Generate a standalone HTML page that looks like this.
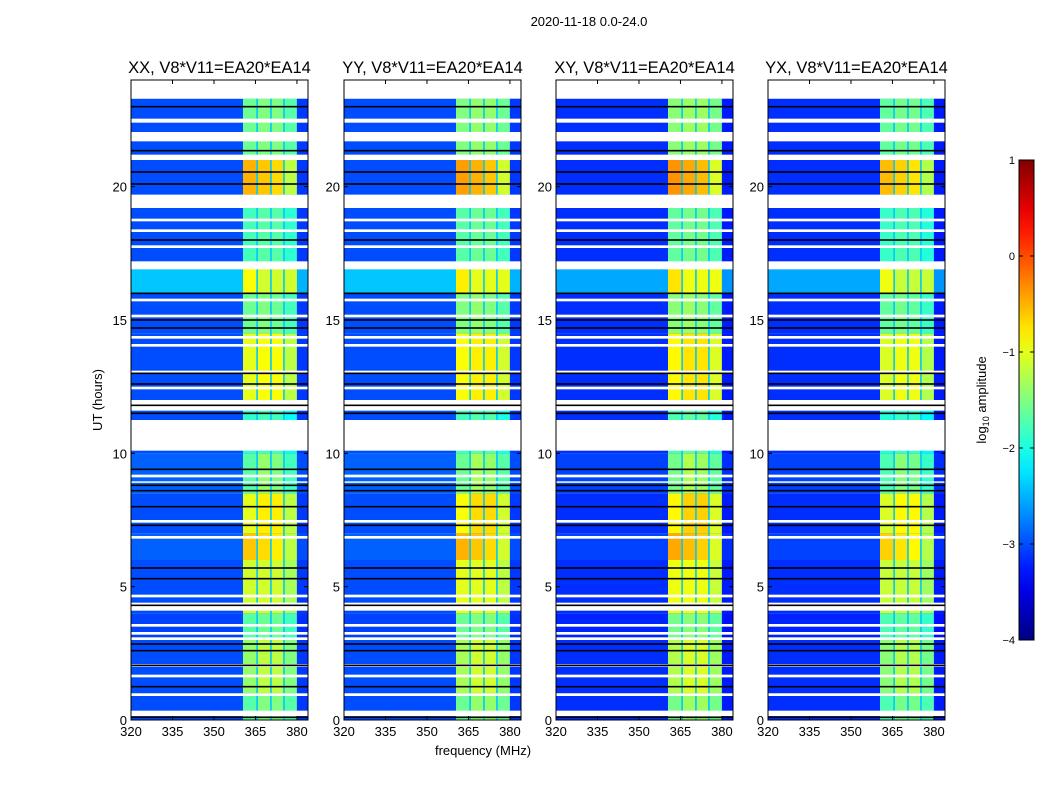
<!DOCTYPE html>
<html><head><meta charset="utf-8"><style>
body{margin:0;background:#fff;width:1050px;height:800px;overflow:hidden;font-family:"Liberation Sans",sans-serif}
svg{position:absolute;left:0;top:0}
</style></head><body>
<svg id="chart" width="1050" height="800"></svg>
<script>
// ---- data ----
const panelTitles = ["XX, V8*V11=EA20*EA14","YY, V8*V11=EA20*EA14","XY, V8*V11=EA20*EA14","YX, V8*V11=EA20*EA14"];
const panelBandOffset = [-0.2, -0.1, -0.05, -0.25];
const panelBaseOffset = [0, 0, -0.15, -0.15];
const xTicks = [320,335,350,365,380];
const yTicks = [0,5,10,15,20];
const cbTicks = [1,0,-1,-2,-3,-4];
// segments: start hour, end hour, background level, band levels (4 sub-bands)
const segStart = [0,1,3,4,6,7,8.5,10,12,14.5,16,17.1,19.7,21];
const segEnd   = [1,3,4,6,7,8.5,10,12,14.5,16,17.1,19.7,21,23.3];
const segBase  = [-3,-3,-3.05,-3,-2.9,-3,-2.9,-3,-3,-3,-2.4,-3,-3,-3];
const segBand  = [[-1.5,-1.3,-1.3,-1.5],[-1.2,-1,-1,-1.3],[-1.5,-1.4,-1.4,-1.6],[-0.9,-0.9,-0.9,-1.1],[-0.4,-0.5,-0.6,-1.0],[-0.8,-0.6,-0.6,-1.0],[-1.5,-1.2,-1.3,-1.6],[-1.7,-1.6,-1.6,-1.9],[-0.8,-0.7,-0.7,-1.0],[-1.4,-1.3,-1.4,-1.6],[-0.7,-0.9,-0.9,-0.9],[-1.6,-1.5,-1.5,-1.7],[-0.3,-0.4,-0.5,-1.0],[-1.4,-1.3,-1.3,-1.5]];
const bandEdges = [360.5,365.6,370.6,375.3,380];
const bandSep = [365.6,370.6,375.3];
// flagged (white) time ranges in hours
const gapStart = [23.3,22.4,21.7,21.0,19.2,11.1,10.1,11.6,4.1,0.15,16.9,3.0,3.2,2.0,9.1,8.9,7.4,6.8,12.4,13.0,14.0,14.3,17.7,18.3,18.7,15.7,15.1,1.6,0.9,4.6,3.5];
const gapEnd   = [24.0,22.55,22.05,21.2,19.7,11.25,11.1,12.0,4.4,0.35,17.2,3.1,3.3,2.1,9.2,8.95,7.5,6.9,12.5,13.1,14.1,14.4,17.8,18.4,18.8,15.8,15.2,1.7,1.0,4.7,3.6];
// dropped (black) lines in hours
const blackH = [23.0,21.35,20.55,20.1,18.0,16.0,15.0,14.7,13.0,12.6,11.8,11.5,9.4,8.8,8.6,8.0,7.3,5.7,5.3,4.3,2.85,2.6,2.05,1.25,0.1];

// ---- helpers ----
const NS="http://www.w3.org/2000/svg";
const svg=document.getElementById('chart');
function jet(v){let t=(v+4)/5;t=Math.max(0,Math.min(1,t));
 const f=(x)=>Math.max(0,Math.min(1,1.5-Math.abs(x)));
 const r=f(4*t-3),g=f(4*t-2),b=f(4*t-1);
 return `rgb(${Math.round(r*255)},${Math.round(g*255)},${Math.round(b*255)})`;}
function el(tag,attrs,parent){const e=document.createElementNS(NS,tag);for(const k in attrs)e.setAttribute(k,attrs[k]);(parent||svg).appendChild(e);return e;}
function txt(s,x,y,size,anchor,parent){const t=el('text',{x:x,y:y,'font-size':size,'text-anchor':anchor||'middle','font-family':'Liberation Sans, sans-serif',fill:'#000'},parent);t.textContent=s;return t;}

const panelX=[131,344,556,768], PW=177, PT=80, PB=720;
const fMin=320,fMax=384,hMin=0,hMax=24;

const title=txt("2020-11-18 0.0-24.0",589,26,13);



panelX.forEach((x0,p)=>{
 const sx=f=>x0+(f-fMin)/(fMax-fMin)*PW;
 const sy=h=>PB-(h-hMin)/(hMax-hMin)*(PB-PT);
 const g=el('g',{});
 
 
 el('rect',{x:x0,y:PT,width:PW,height:PB-PT,fill:'#fff'},g);
 for(let i=0;i<segStart.length;i++){
  const y1=sy(segEnd[i]),y0=sy(segStart[i]);
  const r=el('rect',{x:x0,y:y1,width:PW,height:y0-y1,fill:jet(segBase[i]+panelBaseOffset[p])},g);
  
  
  for(let b=0;b<4;b++){
   const c=el('rect',{x:sx(bandEdges[b]),y:y1,width:sx(bandEdges[b+1])-sx(bandEdges[b]),height:y0-y1,fill:jet(segBand[i][b]+panelBandOffset[p])},g);
   
   
  }
  bandSep.forEach(f=>{const s=el('rect',{x:sx(f)-0.8,y:y1,width:1.6,height:y0-y1,fill:jet(-2.4)},g);
   
   });
  const tl=el('rect',{x:sx(380),y:y1,width:sx(384)-sx(380),height:y0-y1,fill:jet(segBase[i]+panelBaseOffset[p]-0.1)},g);
  
  
 }
 for(let i=0;i<gapStart.length;i++){
  const y1=sy(gapEnd[i]),y0=sy(gapStart[i]);
  const w=el('rect',{x:x0,y:y1,width:PW,height:Math.max(1.5,y0-y1),fill:'#fff'},g);
  
  
 }
 blackH.forEach(h=>{const l=el('rect',{x:x0,y:sy(h)-0.8,width:PW,height:1.6,fill:'#000'},g);
  
  });
 el('rect',{x:x0,y:PT,width:PW,height:PB-PT,fill:'none',stroke:'#000','stroke-width':1},g);
 xTicks.forEach(f=>{const X=sx(f);
  el('line',{x1:X,x2:X,y1:PB,y2:PB-4,stroke:'#000'},g);el('line',{x1:X,x2:X,y1:PT,y2:PT+4,stroke:'#000'},g);
  const t=txt(String(f),X,PB+16,13,'middle',g);
  
  });
 yTicks.forEach(h=>{const Y=sy(h);
  el('line',{x1:x0,x2:x0+4,y1:Y,y2:Y,stroke:'#000'},g);el('line',{x1:x0+PW,x2:x0+PW-4,y1:Y,y2:Y,stroke:'#000'},g);
  const t=txt(String(h),x0-4,Y+5,13,'end',g);
  
  });
 const pt=txt(panelTitles[p],x0+PW/2,73,16.5,'middle',g);
 
 
});

const yl=txt("UT (hours)",0,0,13);
yl.setAttribute('transform','translate(102,400) rotate(-90)');


const xl=txt("frequency (MHz)",483,755,13);



// colorbar
const defs=el('defs',{});
const grad=el('linearGradient',{id:'jetg',x1:0,y1:1,x2:0,y2:0},defs);
for(let i=0;i<=20;i++){const v=-4+5*i/20;el('stop',{offset:(i/20),'stop-color':jet(v)},grad);}
const cb=el('g',{});


const cbTop=160,cbBot=640,cbX=1019,cbW=15;
el('rect',{x:cbX,y:cbTop,width:cbW,height:cbBot-cbTop,fill:'url(#jetg)',stroke:'#000','stroke-width':1},cb);
cbTicks.forEach(v=>{const Y=cbBot-(v+4)/5*(cbBot-cbTop);
 el('line',{x1:cbX,x2:cbX+4,y1:Y,y2:Y,stroke:'#000'},cb);el('line',{x1:cbX+cbW,x2:cbX+cbW-4,y1:Y,y2:Y,stroke:'#000'},cb);
 const t=txt(v<0?'\u2212'+(-v):String(v),cbX-4,Y+4,11,'end',cb);
 
 });
const cl=el('text',{transform:'translate(986,400) rotate(-90)','font-size':13,'text-anchor':'middle','font-family':'Liberation Sans, sans-serif'},cb);
cl.innerHTML='log<tspan font-size="9" dy="3">10</tspan><tspan dy="-3"> amplitude</tspan>';


</script>
</body></html>
